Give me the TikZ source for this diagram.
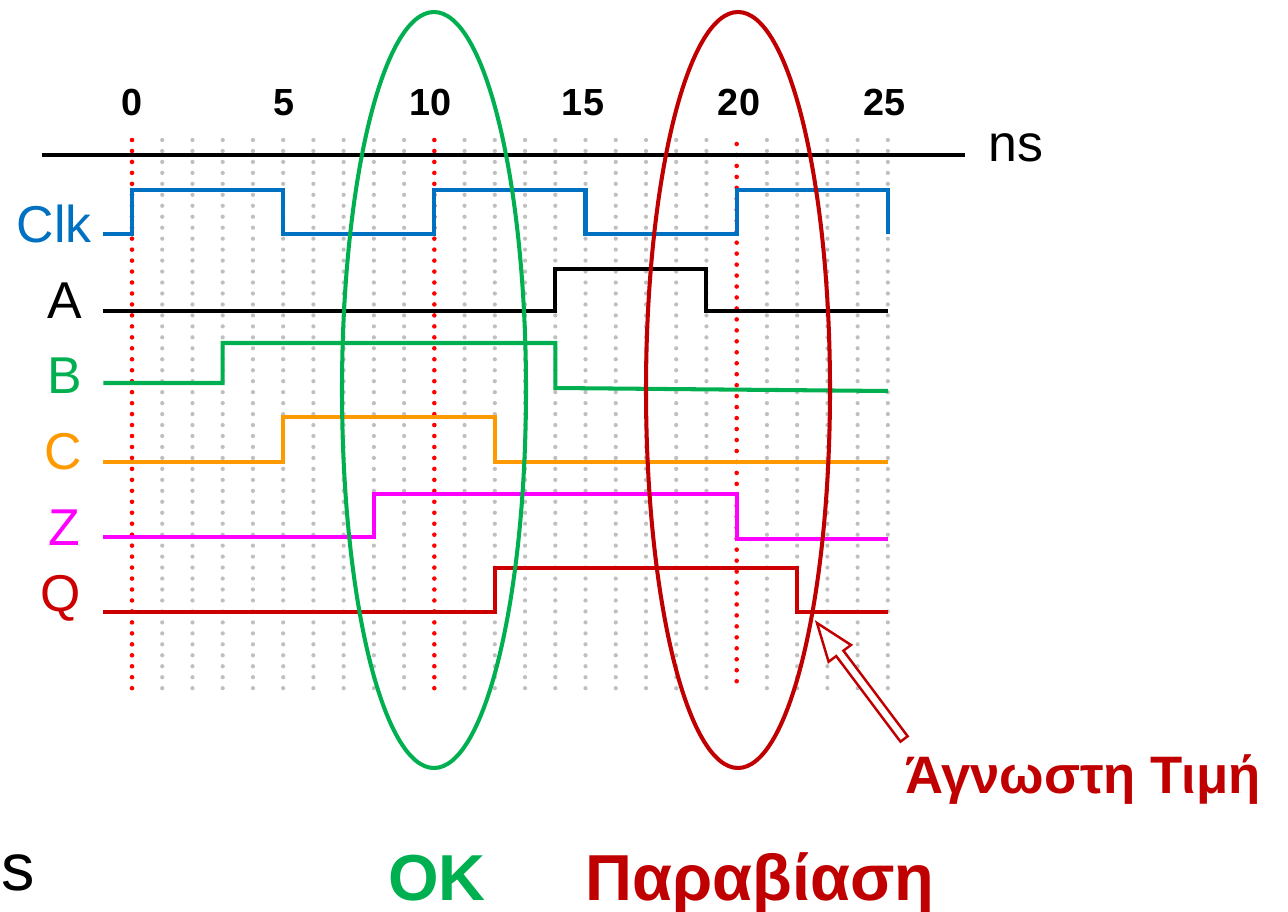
\documentclass[tikz,border=0pt]{standalone}
\usepackage{fontspec}
\setmainfont{Liberation Sans}
\definecolor{clkblue}{RGB}{0,112,192}
\definecolor{okgreen}{RGB}{0,176,80}
\definecolor{corange}{RGB}{255,153,0}
\definecolor{zmagenta}{RGB}{255,0,255}
\definecolor{qred}{RGB}{204,0,0}
\definecolor{darkred}{RGB}{192,0,0}
\definecolor{dotgray}{RGB}{191,191,191}

\begin{document}
\begin{tikzpicture}[x=0.02cm,y=-0.02cm,
    wave/.style={line width=2.3pt,line join=miter},
    gridline/.style={dotgray,line width=2.4pt,line cap=round,dash pattern=on 0pt off 6.24pt},
    redline/.style={red,line width=2.6pt,line cap=round,dash pattern=on 0pt off 6.24pt},
    siglabel/.style={anchor=base east,font=\fontsize{29.5}{30}\selectfont},
    timelabel/.style={anchor=base,font=\fontsize{21.5}{22}\selectfont\bfseries},
    ring/.style={line width=2.3pt},
    verdict/.style={anchor=base,font=\fontsize{37}{38}\selectfont\bfseries}]
    \useasboundingbox (0,0) rectangle (1288,912);

    % grid, one column per ns
    \begin{scope}[shift={(132,0)},x=0.6048cm]
        \foreach \t in {1,2,...,9,11,12,...,19,21,22,...,25}
            \draw[gridline] (\t,140) -- (\t,690);
        \draw[redline] (0,140) -- (0,690);
        \draw[redline] (10,140) -- (10,690);
        \draw[redline] (20,144) -- (20,690);
    \end{scope}

    \draw[line width=2.3pt] (42,155) -- (965,155);
    \node[anchor=base west,font=\fontsize{29.5}{30}\selectfont] (ns) at (982,162) {ns};
    \foreach \t/\x in {0/132,5/284,10/431,15/583,20/739,25/884}
        \node[timelabel] (t\t) at (\x,116) {\t};

    % waveforms, x in ns
    \begin{scope}[shift={(132,0)},x=0.6048cm]
        \draw[wave,clkblue] (-0.95,234) -- (0,234) -- (0,190) -- (5,190) -- (5,234) -- (10,234) -- (10,190)
            -- (15,190) -- (15,234) -- (20,234) -- (20,190) -- (25,190) -- (25,234);
        \draw[wave,black] (-0.95,311) -- (14,311) -- (14,269) -- (19,269) -- (19,311) -- (25,311);
        \draw[wave,okgreen] (-0.95,383) -- (3,383) -- (3,343) -- (14,343) -- (14,388) -- (25,391);
        \draw[wave,corange] (-0.95,462) -- (5,462) -- (5,417) -- (12,417) -- (12,462) -- (25,462);
        \draw[wave,zmagenta] (-0.95,537) -- (8,537) -- (8,494) -- (20,494) -- (20,539) -- (25,539);
        \draw[wave,qred] (-0.95,612) -- (12,612) -- (12,568) -- (22,568) -- (22,612) -- (25,612);
    \end{scope}

    \node[siglabel,clkblue] (clk) at (98,243) {Clk};
    \node[siglabel,black] (a) at (88,318) {A};
    \node[siglabel,okgreen] (b) at (88,393) {B};
    \node[siglabel,corange] (c) at (88,469) {C};
    \node[siglabel,zmagenta] (z) at (86,545) {Z};
    \node[siglabel,qred] (q) at (87,611) {Q};

    \draw[ring,okgreen] (434,390) ellipse [x radius=92,y radius=378];
    \draw[ring,darkred] (738,390) ellipse [x radius=92,y radius=378];

    % hollow arrow to the unknown value
    \coordinate (unkTip) at (817,623);
    \begin{scope}[shift={(unkTip)},rotate=-53.1]
        \draw[darkred,fill=white,line width=1.4pt,line join=miter]
            (0,0) -- (38,14) -- (38,4.5) -- (145,4.5) -- (145,-4.5) -- (38,-4.5) -- (38,-14) -- cycle;
    \end{scope}
    \node[anchor=base,darkred,font=\fontsize{30}{31}\selectfont\bfseries] (unk) at (1083,793) {Άγνωστη Τιμή};

    \node[anchor=base west,font=\fontsize{38}{39}\selectfont] (s) at (-5,890) {s};
    \node[verdict,okgreen] (ok) at (437,900) {OK};
    \node[verdict,darkred] (viol) at (760,900) {Παραβίαση};
\end{tikzpicture}
\end{document}
